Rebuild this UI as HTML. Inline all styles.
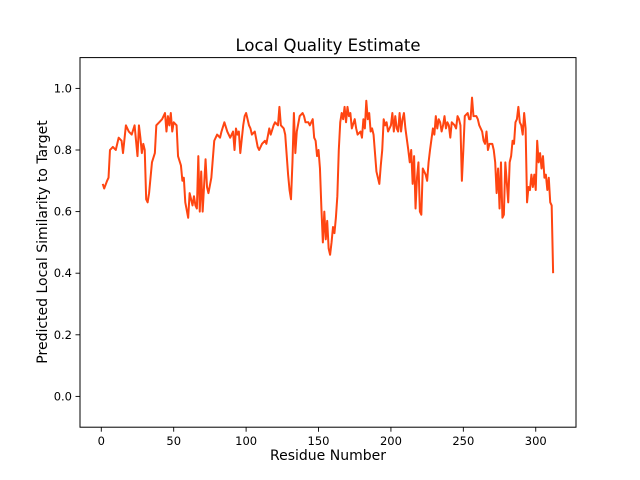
<!DOCTYPE html>
<html><head><meta charset="utf-8"><style>
html,body{margin:0;padding:0;background:#fff;}
svg{display:block;font-family:"DejaVu Sans","Liberation Sans",sans-serif;}
</style></head><body>
<svg id="chart" width="640" height="480" viewBox="0 0 640 480" xmlns="http://www.w3.org/2000/svg">
<rect width="640" height="480" fill="#fff"/>
<text x="328" y="51" text-anchor="middle" font-size="16.5" fill="#000">Local Quality Estimate</text>
<g id="plot"></g>
<text x="328" y="460" text-anchor="middle" font-size="14" fill="#000">Residue Number</text>
<text transform="translate(47,242) rotate(-90)" text-anchor="middle" font-size="14" fill="#000">Predicted Local Similarity to Target</text>
</svg>
<script>
const residues = [1,2,4,5,6,8,10,12,14,15,17,19,21,23,24,25,26,27,28,29,30,31,32,33,35,37,38,40,42,44,45,46,47,48,49,50,52,53,55,56,57,58,60,61,62,63,64,65,66,67,68,69,70,72,73,74,76,78,80,82,83,85,87,89,91,92,93,94,95,96,98,99,100,102,103,104,106,108,109,111,113,114,116,117,119,120,122,123,124,126,127,129,130,131,132,133,134,135,137,139,140,141,143,144,146,147,148,149,150,151,152,153,154,155,156,157,158,159,160,161,162,163,164,165,166,167,168,169,170,171,172,173,175,176,177,179,180,181,182,183,184,185,186,187,188,190,192,193,194,195,196,197,198,199,200,201,202,203,204,205,206,207,208,209,210,212,213,214,215,216,217,218,219,220,221,222,224,225,226,227,229,230,231,232,233,234,235,236,237,238,239,240,241,242,244,245,246,247,248,249,250,251,253,254,255,256,257,259,260,261,262,263,264,265,266,267,268,270,271,272,273,274,275,276,277,278,279,281,282,283,284,285,286,287,288,289,290,291,292,293,294,295,296,297,298,299,300,301,302,303,304,305,306,307,308,309,310,311,312];
const scores = [0.69,0.675,0.70,0.71,0.80,0.81,0.80,0.84,0.83,0.79,0.88,0.86,0.85,0.88,0.83,0.78,0.88,0.84,0.79,0.82,0.80,0.64,0.63,0.66,0.76,0.79,0.88,0.89,0.90,0.92,0.86,0.91,0.88,0.92,0.86,0.89,0.88,0.78,0.75,0.70,0.71,0.63,0.58,0.66,0.64,0.62,0.65,0.62,0.61,0.78,0.60,0.73,0.60,0.77,0.68,0.66,0.71,0.83,0.85,0.84,0.86,0.89,0.86,0.84,0.86,0.80,0.87,0.85,0.86,0.79,0.88,0.91,0.92,0.88,0.87,0.85,0.86,0.81,0.80,0.82,0.83,0.82,0.87,0.85,0.88,0.89,0.88,0.94,0.88,0.87,0.85,0.72,0.67,0.64,0.76,0.92,0.79,0.86,0.91,0.92,0.91,0.89,0.89,0.88,0.90,0.84,0.83,0.78,0.80,0.74,0.61,0.50,0.60,0.51,0.57,0.48,0.46,0.50,0.55,0.53,0.58,0.65,0.80,0.89,0.92,0.90,0.94,0.89,0.94,0.91,0.92,0.87,0.90,0.87,0.85,0.86,0.84,0.90,0.87,0.96,0.90,0.92,0.86,0.87,0.85,0.73,0.69,0.75,0.80,0.90,0.88,0.89,0.86,0.87,0.88,0.92,0.86,0.91,0.87,0.86,0.92,0.86,0.90,0.92,0.87,0.80,0.76,0.80,0.69,0.78,0.61,0.71,0.76,0.60,0.59,0.74,0.72,0.70,0.76,0.80,0.87,0.85,0.91,0.87,0.90,0.89,0.86,0.88,0.91,0.87,0.89,0.88,0.84,0.89,0.88,0.87,0.91,0.90,0.88,0.70,0.80,0.91,0.92,0.90,0.90,0.97,0.91,0.91,0.90,0.88,0.87,0.86,0.83,0.82,0.86,0.80,0.82,0.82,0.80,0.76,0.66,0.74,0.61,0.76,0.58,0.59,0.76,0.63,0.76,0.78,0.83,0.82,0.89,0.90,0.94,0.89,0.88,0.85,0.92,0.87,0.63,0.68,0.67,0.72,0.68,0.72,0.67,0.83,0.76,0.79,0.74,0.78,0.71,0.72,0.67,0.71,0.63,0.62,0.40];
const xTicks = [0,50,100,150,200,250,300];
const yTicks = [0.0,0.2,0.4,0.6,0.8,1.0];
const xTickLabels = ["0","50","100","150","200","250","300"];
const yTickLabels = ["0.0","0.2","0.4","0.6","0.8","1.0"];

const L=80,R=576,T=57.6,B=427.2;
const xMin=-14.7,xMax=327.8,yMin=-0.1,yMax=1.1;
function xs(v){return L+(v-xMin)/(xMax-xMin)*(R-L);}
function ys(v){return B-(v-yMin)/(yMax-yMin)*(B-T);}
const NS="http://www.w3.org/2000/svg";
const g=document.getElementById('plot');
function mk(tag,attrs){const e=document.createElementNS(NS,tag);for(const k in attrs)e.setAttribute(k,attrs[k]);g.appendChild(e);return e;}

let d="";
residues.forEach((r,i)=>{d+=(i?"L":"M")+xs(r).toFixed(2)+","+ys(scores[i]).toFixed(2);});
const line=mk('path',{d:d,fill:"none",stroke:"#ff4511","stroke-width":2,"stroke-linejoin":"round"});



const frame=mk('rect',{x:L,y:T,width:R-L,height:B-T,fill:"none",stroke:"#000","stroke-width":1});



xTicks.forEach((t,i)=>{
  const x=xs(t);
  const tk=mk('line',{x1:x,x2:x,y1:B,y2:B+4.5,stroke:"#000","stroke-width":0.9});
  
  
  const tx=mk('text',{x:x,y:B+18,"text-anchor":"middle","font-size":"11.5",fill:"#000"});
  tx.textContent=xTickLabels[i];
  
  
});
yTicks.forEach((t,i)=>{
  const y=ys(t);
  const tk=mk('line',{x1:L-4.5,x2:L,y1:y,y2:y,stroke:"#000","stroke-width":0.9});
  
  
  const tx=mk('text',{x:L-8,y:y+4,"text-anchor":"end","font-size":"11.5",fill:"#000"});
  tx.textContent=yTickLabels[i];
  
  
});
</script>
</body></html>
